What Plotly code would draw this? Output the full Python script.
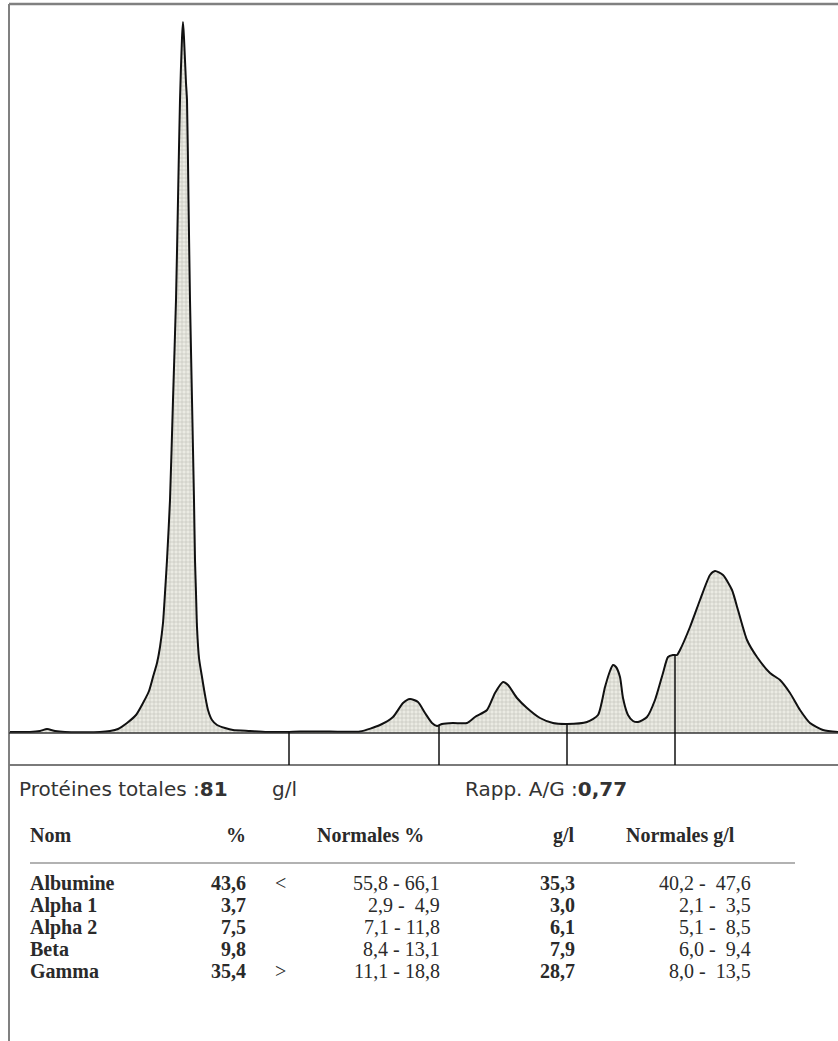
import numpy as np
import plotly.graph_objects as go

W, H = 838, 1041

# ---- densitometry trace (migration position, optical density in arbitrary units) ----
position = [9, 30, 40, 47, 55, 65, 100, 110, 118, 127, 136, 143, 149, 153, 157, 160, 163, 165, 167,
            170, 173, 176, 178, 180, 182, 183, 184, 186, 187, 188.5, 190, 192, 194, 195, 196, 197,
            199, 202, 205, 208, 212, 217, 225, 233, 250, 267, 287, 300, 330, 360, 380, 393, 403,
            410, 418, 425, 432, 437, 442, 453, 467, 475, 487, 495, 503, 508, 517, 527, 540, 553,
            567, 587, 598, 605, 610, 613, 616, 620, 623, 628, 633, 638, 647, 655, 663, 668, 673,
            677, 680, 690, 700, 710, 715, 723, 732, 738, 747, 757, 770, 780, 790, 800, 810, 823, 838]
density = [1, 1, 2, 4, 2, 1, 1, 2, 4, 10, 18, 30, 42, 56, 70, 86, 110, 140, 173,
           233, 333, 433, 533, 633, 695, 711, 695, 650, 633, 533, 433, 333, 233, 173, 140, 106,
           75, 56, 38, 23, 13, 8, 5, 3, 2, 1, 1, 1.5, 1.5, 1.5, 8, 16, 30,
           34, 31, 20, 10, 7, 9, 10, 10, 16, 23, 40, 51, 48, 35, 25, 15, 10,
           9, 11, 18, 46, 62, 68, 66, 56, 35, 18, 12, 11, 16, 33, 60, 76, 78,
           78, 83, 106, 133, 158, 162, 158, 143, 123, 93, 76, 60, 53, 40, 23, 10, 3, 1]

# fraction separators on the trace
fraction_bounds = [289, 439, 567, 675]

# ---- results table ----
total_protein = "81"
total_unit = "g/l"
ag_ratio = "0,77"
headers = ["Nom", "%", "Normales %", "g/l", "Normales g/l"]
fractions = ["Albumine", "Alpha 1", "Alpha 2", "Beta", "Gamma"]
pct = ["43,6", "3,7", "7,5", "9,8", "35,4"]
flags = ["<", "", "", "", ">"]
norm_pct = ["55,8 - 66,1", "2,9 -  4,9", "7,1 - 11,8", "8,4 - 13,1", "11,1 - 18,8"]
gl = ["35,3", "3,0", "6,1", "7,9", "28,7"]
norm_gl = ["40,2 -  47,6", "2,1 -  3,5", "5,1 -  8,5", "6,0 -  9,4", "8,0 -  13,5"]

BASE = 733  # pixel row of the baseline


def ypix(py):
    """pixel row -> y data value (baseline = 0)"""
    return BASE - py


def nb(s):
    return s.replace("  ", " \u00a0")


fig = go.Figure()
fig.add_trace(go.Scatter(
    x=position, y=density, mode="lines",
    line=dict(color="#111111", width=2, shape="spline", smoothing=0.6),
    fill="tozeroy", fillcolor="#e4e4dc",
    fillpattern=dict(shape="+", size=4, solidity=0.3, fgcolor="#9c9c94", bgcolor="#ebebE3"),
    hoverinfo="skip", showlegend=False,
))

shapes = []
# frame
shapes.append(dict(type="line", x0=9, x1=W, y0=ypix(4), y1=ypix(4), line=dict(color="#808080", width=2.5)))
shapes.append(dict(type="line", x0=9, x1=9, y0=ypix(4), y1=ypix(H + 5), line=dict(color="#808080", width=2)))
# baseline & box under trace
shapes.append(dict(type="line", x0=9, x1=W, y0=0, y1=0, line=dict(color="#333333", width=1.5)))
shapes.append(dict(type="line", x0=9, x1=W, y0=ypix(765), y1=ypix(765), line=dict(color="#7a7a7a", width=2)))
for b in fraction_bounds:
    top = float(np.interp(b, position, density))
    shapes.append(dict(type="line", x0=b, x1=b, y0=ypix(765), y1=top, line=dict(color="#111111", width=1.5)))
# header rule
shapes.append(dict(type="line", x0=30, x1=795, y0=ypix(863), y1=ypix(863), line=dict(color="#999999", width=1.5)))

ann = []
sans = dict(family="DejaVu Sans", size=20, color="#333333")
serif = dict(family="Liberation Serif", size=20, color="#2a2a2a")


def txt(x, py, s, anchor="left", font=None):
    ann.append(dict(x=x, y=ypix(py), xref="x", yref="y", text=s, showarrow=False,
                    xanchor=anchor, yanchor="middle", font=font or serif, borderpad=0))


txt(18, 789, "Protéines totales :<b>" + total_protein + "</b>", font=sans)
txt(271, 789, total_unit, font=sans)
txt(464, 789, "Rapp. A/G :<b>" + ag_ratio + "</b>", font=sans)

hy = 835
txt(29, hy, "<b>" + headers[0] + "</b>")
txt(247, hy, "<b>" + headers[1] + "</b>", "right")
txt(316, hy, "<b>" + headers[2] + "</b>")
txt(576, hy, "<b>" + headers[3] + "</b>", "right")
txt(625, hy, "<b>" + headers[4] + "</b>")

row_y = [883, 905, 927, 949, 971]
for i, ry in enumerate(row_y):
    txt(29, ry, "<b>" + fractions[i] + "</b>")
    txt(247, ry, "<b>" + pct[i] + "</b>", "right")
    if flags[i]:
        txt(274, ry, flags[i])
    txt(441, ry, nb(norm_pct[i]), "right")
    txt(576, ry, "<b>" + gl[i] + "</b>", "right")
    txt(752, ry, nb(norm_gl[i]), "right")

fig.update_layout(
    width=W, height=H, margin=dict(l=0, r=0, t=0, b=0),
    paper_bgcolor="white", plot_bgcolor="white",
    xaxis=dict(range=[0, W], domain=[0, 1], visible=False, fixedrange=True),
    yaxis=dict(range=[ypix(H), ypix(0)], domain=[0, 1], visible=False, fixedrange=True),
    shapes=shapes, annotations=ann,
)

fig.write_html("out.html")
